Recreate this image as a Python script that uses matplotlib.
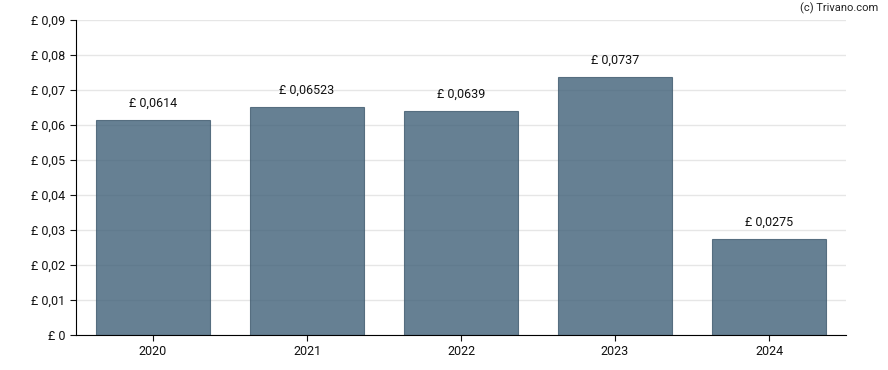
import matplotlib
matplotlib.use('Agg')
import matplotlib.pyplot as plt
from matplotlib.ticker import FuncFormatter

years = ['2020', '2021', '2022', '2023', '2024']
dividends = [0.0614, 0.06523, 0.0639, 0.0737, 0.0275]
labels = ['£ 0,0614', '£ 0,06523', '£ 0,0639', '£ 0,0737', '£ 0,0275']

plt.rcParams['font.family'] = ['Roboto', 'DejaVu Sans']


def pound_fmt(v, pos):
    if abs(v) < 1e-12:
        return '£ 0'
    return '£ ' + f'{v:.2f}'.replace('.', ',')


fig = plt.figure(figsize=(8.88, 3.70), dpi=100)
ax = fig.add_axes([76 / 888, 35 / 370, 770 / 888, 315 / 370])

x = range(len(years))
ax.bar(x, dividends, width=0.745, color=(0.25, 0.38, 0.47), alpha=0.8,
       edgecolor='#3f5a6e', linewidth=0.8, zorder=2)
for i, (v, lab) in enumerate(zip(dividends, labels)):
    ax.annotate(lab, (i, v), xytext=(0, 7.5), textcoords='offset points',
                ha='center', va='bottom', fontsize=9, color='#111111')

ax.set_xlim(-0.5, 4.5)
ax.set_ylim(0, 0.09)
ax.set_yticks([i * 0.01 for i in range(10)])
ax.yaxis.set_major_formatter(FuncFormatter(pound_fmt))
ax.set_xticks(list(x))
ax.set_xticklabels(years)
ax.tick_params(labelsize=9, colors='#111111', length=4)
ax.grid(axis='y', color='#e6e6e6', linewidth=1, zorder=1)
ax.set_axisbelow(True)
for s in ['top', 'right']:
    ax.spines[s].set_visible(False)
ax.spines['left'].set_color('black')
ax.spines['bottom'].set_color('black')

fig.text(878 / 888, 1 - 8 / 370, '(c) Trivano.com', ha='right', va='center',
         fontsize=8, color='#222222')

fig.savefig('out.png', dpi=100)
